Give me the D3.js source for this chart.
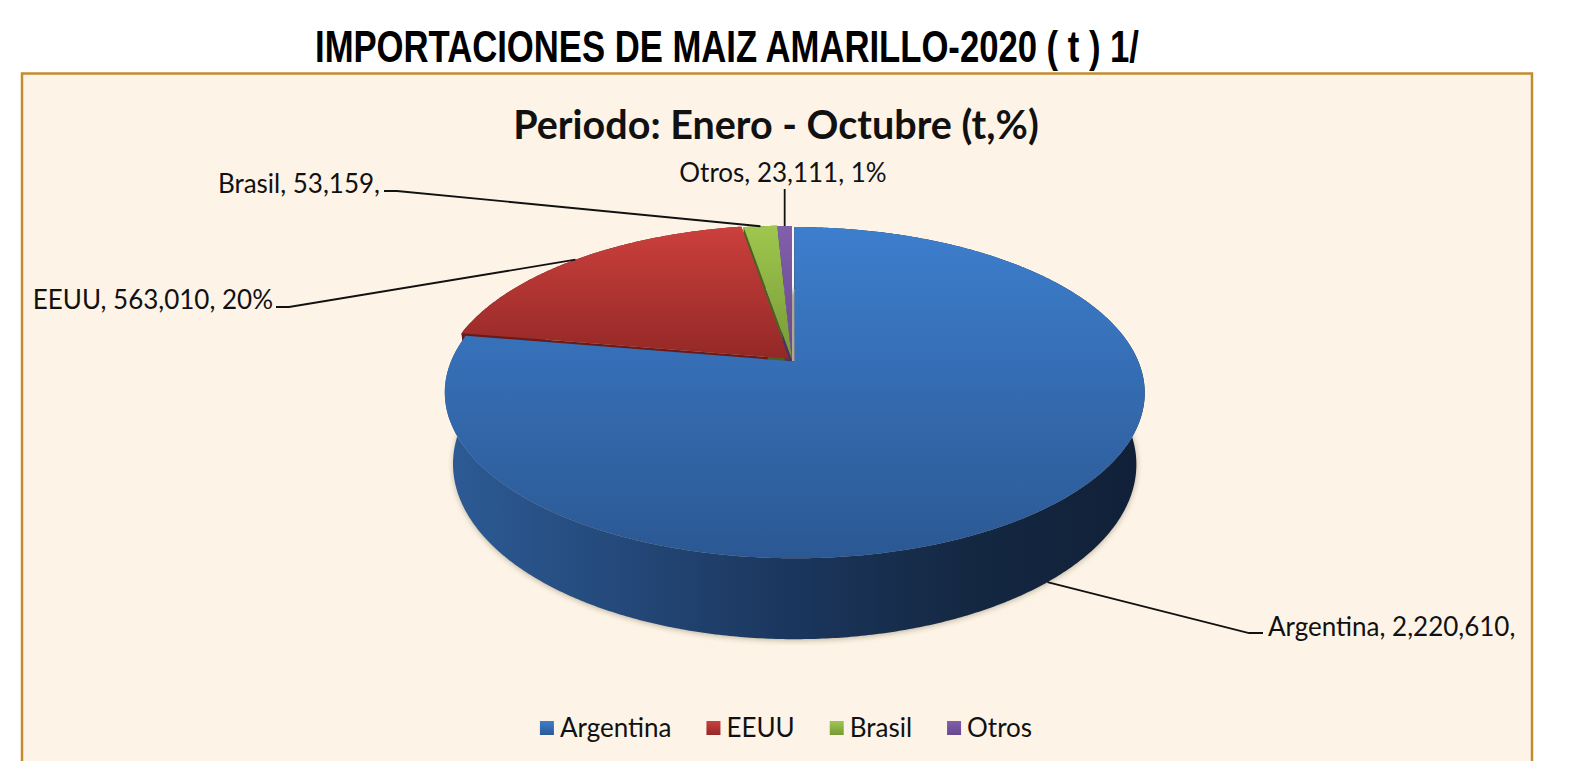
<!DOCTYPE html>
<html><head><meta charset="utf-8">
<script src="https://cdn.jsdelivr.net/npm/d3@7"></script>
<style>body{margin:0;background:#fff;} svg{display:block;}</style>
</head><body>
<svg id="chart" width="1585" height="761"></svg>
<script>
// ---------- data ----------
const categories = ["Argentina", "EEUU", "Brasil", "Otros"];
const values = [2220610, 563010, 53159, 23111];
const pctShown = ["", "20%", "", "1%"];   // percentage text visible in the original labels
const titleText = "IMPORTACIONES DE MAIZ AMARILLO-2020 ( t ) 1/";
const subtitleText = "Periodo: Enero - Octubre (t,%)";

// ---------- style ----------
const topColors = [["#3d7ecd", "#2b5893"], ["#cb403d", "#932826"], ["#9fc74e", "#779936"], ["#815fab", "#684891"]];
const edgeColors = ["#1b3558", "#6a1b19", "#4b6121", "#48326a"];
const explode = [0.012, 0.012, 0.004, 0];
const labelFont = "Lato, 'Open Sans', sans-serif";

const svg = d3.select("#chart");
const defs = svg.append("defs");

svg.append("rect").attr("width", 1585).attr("height", 761).attr("fill", "#fff");
svg.append("rect").attr("x", 22).attr("y", 73.5).attr("width", 1510).attr("height", 740)
  .attr("fill", "#fdf4e7").attr("stroke", "#c28d31").attr("stroke-width", 2.5);

// title
svg.append("text").attr("x", 315).attr("y", 62)
  .attr("font-family", "'Liberation Sans Narrow', 'Liberation Sans', Arial, sans-serif")
  .attr("font-weight", "bold").attr("font-size", 45)
  .attr("textLength", 824).attr("lengthAdjust", "spacingAndGlyphs")
  .attr("fill", "#000").text(titleText);

svg.append("text").attr("x", 776).attr("y", 139).attr("text-anchor", "middle")
  .attr("font-family", labelFont).attr("font-weight", "bold").attr("font-size", 39.5)
  .attr("fill", "#111").text(subtitleText);

// ---------- 3D projection ----------
const P = {cx: 792, cy: 360, F: 1616, L: 4.71, sinP: 0.464, cosP: 0.886, T: 0.237};
function proj(theta, r, h, off) {
  const X = r * Math.sin(theta) + off[0];
  const Z = r * Math.cos(theta) + off[1];
  const depth = P.L + Z * P.cosP - h * P.sinP;
  return [P.cx + P.F * X / depth, P.cy - P.F * (h * P.cosP + Z * P.sinP) / depth];
}

const pie = d3.pie().sort(null).value(d => d).startAngle(0).endAngle(2 * Math.PI);
const arcs = pie(values);
const color = d3.scaleOrdinal().domain(categories).range(topColors);
const closed = d3.line().curve(d3.curveLinearClosed);

arcs.forEach((a, i) => {
  const mid = (a.startAngle + a.endAngle) / 2;
  a.off = [explode[i] * Math.sin(mid), explode[i] * Math.cos(mid)];
  a.mid = mid;
  const g = defs.append("linearGradient").attr("id", "top" + i)
    .attr("x1", 0).attr("y1", 0).attr("x2", 0).attr("y2", 1);
  g.append("stop").attr("offset", "0%").attr("stop-color", color(categories[i])[0]);
  g.append("stop").attr("offset", "100%").attr("stop-color", color(categories[i])[1]);
});

const sideG = defs.append("linearGradient").attr("id", "side").attr("gradientUnits", "userSpaceOnUse")
  .attr("x1", 442).attr("y1", 0).attr("x2", 1140).attr("y2", 0);
[["0%", "#2d5b96"], ["20%", "#264d80"], ["50%", "#1b365d"], ["75%", "#142842"], ["100%", "#112038"]]
  .forEach(s => sideG.append("stop").attr("offset", s[0]).attr("stop-color", s[1]));

const shadowF = defs.append("filter").attr("id", "shadow").attr("x", "-10%").attr("y", "-20%")
  .attr("width", "120%").attr("height", "140%");
shadowF.append("feGaussianBlur").attr("stdDeviation", 3);

function rimPts(a0, a1, h, off) {
  const n = Math.max(2, Math.ceil((a1 - a0) / (Math.PI / 360)));
  return d3.range(n + 1).map(k => proj(a0 + (a1 - a0) * k / n, 1, h, off));
}

// shadow
svg.append("path")
  .attr("d", closed(rimPts(0, 2 * Math.PI, -P.T, [0, 0]).map(p => [p[0] + 3, p[1] + 3])))
  .attr("fill", "#7a6a4e").attr("opacity", 0.55).attr("filter", "url(#shadow)");

const pieG = svg.append("g");

// radial faces
arcs.forEach((a, i) => {
  [a.startAngle, a.endAngle].forEach(ang => {
    const pts = [proj(0, 0, 0, a.off), proj(ang, 1, 0, a.off), proj(ang, 1, -P.T, a.off), proj(0, 0, -P.T, a.off)];
    pieG.append("path").attr("d", closed(pts)).attr("fill", edgeColors[i]);
  });
});

// outer walls: one band per slice, back slices first
const order = arcs.map((a, i) => i).sort((p, q) => Math.cos(arcs[q].mid) - Math.cos(arcs[p].mid));
order.forEach(i => {
  const a = arcs[i];
  const pts = rimPts(a.startAngle, a.endAngle, 0, a.off)
    .concat(rimPts(a.startAngle, a.endAngle, -P.T, a.off).reverse());
  pieG.append("path").attr("d", closed(pts)).attr("fill", i === 0 ? "url(#side)" : edgeColors[i]);
});

// top faces
arcs.forEach((a, i) => {
  const pts = [proj(0, 0, 0, a.off)].concat(rimPts(a.startAngle, a.endAngle, 0, a.off));
  pieG.append("path").attr("d", closed(pts)).attr("fill", `url(#top${i})`);
});

// ---------- labels ----------
const fmt = d3.format(",");
const labelLayout = [
  {x: 1268, y: 636, anchor: "start", line: (p) => [p, [1249, 633], [1263, 633]], h: -P.T},
  {x: 273, y: 309, anchor: "end", line: (p) => [[276, 307], [289, 307], p], h: 0},
  {x: 380, y: 193, anchor: "end", line: (p) => [[384, 191], [397, 191], p], h: 0},
  {x: 783, y: 182, anchor: "middle", line: (p) => [[p[0], 189], p], h: 0}
];
const lineGen = d3.line();
arcs.forEach((a, i) => {
  const L = labelLayout[i];
  const p = proj(a.mid, 1, L.h, a.off);
  svg.append("path").attr("d", lineGen(L.line(p))).attr("fill", "none")
    .attr("stroke", "#111").attr("stroke-width", 1.8);
  svg.append("text").attr("x", L.x).attr("y", L.y).attr("text-anchor", L.anchor)
    .attr("font-family", labelFont).attr("font-size", 26).attr("fill", "#111")
    .text(`${categories[i]}, ${fmt(values[i])},${pctShown[i] ? " " + pctShown[i] : ""}`);
});

// ---------- legend ----------
const legend = svg.append("g");
let lx = 0;
categories.forEach((c, i) => {
  const g = legend.append("g");
  g.append("rect").attr("x", lx).attr("y", 721).attr("width", 14).attr("height", 14)
    .attr("fill", `url(#top${i})`);
  const t = g.append("text").attr("x", lx + 20).attr("y", 737)
    .attr("font-family", labelFont).attr("font-size", 26).attr("fill", "#111").text(c);
  lx += 20 + t.node().getComputedTextLength() + 35;
});
const totalW = lx - 35;
legend.attr("transform", `translate(${786 - totalW / 2},0)`);
</script>
</body></html>
